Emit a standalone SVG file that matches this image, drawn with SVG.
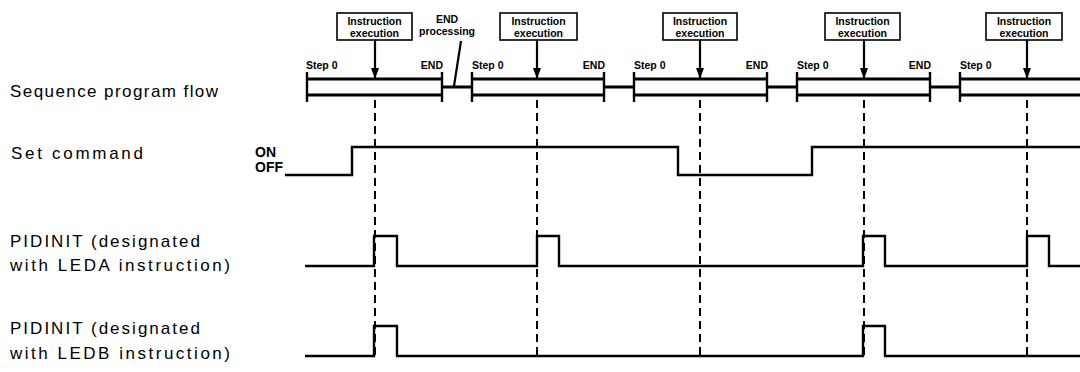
<svg xmlns="http://www.w3.org/2000/svg" width="1080" height="372" viewBox="0 0 1080 372">
<style>
.lbl{font-family:"Liberation Sans",Arial,sans-serif;font-size:17px;fill:#000}
.sm{font-family:"Liberation Sans",Arial,sans-serif;font-size:10.5px;font-weight:bold;fill:#000}
.onoff{font-family:"Liberation Sans",Arial,sans-serif;font-size:14px;font-weight:bold;fill:#000}
.box{fill:#fff;stroke:#000;stroke-width:1.6}
.bar{fill:none;stroke:#000;stroke-width:2.8}
.tick{stroke:#000;stroke-width:2.4}
.wave{fill:none;stroke:#000;stroke-width:2.4}
.dash{stroke:#000;stroke-width:2;stroke-dasharray:8 5}
.arr{stroke:#000;stroke-width:2.2}
</style>
<defs>
<marker id="ah" markerWidth="11" markerHeight="8" refX="11" refY="4" orient="auto" markerUnits="userSpaceOnUse" viewBox="0 0 11 8">
<path d="M0,0 L11,4 L0,8 Z" fill="#000"/>
</marker>
</defs>
<rect width="1080" height="372" fill="#fff"/>

<g id="labels">
<text class="lbl" x="10" y="97" textLength="208" lengthAdjust="spacing">Sequence program flow</text>
<text class="lbl" x="11" y="159" textLength="132" lengthAdjust="spacing">Set command</text>
<text class="lbl" x="10" y="247" textLength="190" lengthAdjust="spacing">PIDINIT (designated</text>
<text class="lbl" x="10" y="271" textLength="220" lengthAdjust="spacing">with LEDA instruction)</text>
<text class="lbl" x="10" y="334" textLength="190" lengthAdjust="spacing">PIDINIT (designated</text>
<text class="lbl" x="10" y="359" textLength="220" lengthAdjust="spacing">with LEDB instruction)</text>
<text class="onoff" x="255" y="157">ON</text>
<text class="onoff" x="255" y="172">OFF</text>
</g>

<g id="program-flow">
<g id="seg1">
<path class="bar" d="M307,79 H442 M307,95 H442"/>
<path class="tick" d="M307,72 V102 M442,72 V102"/>
<text class="sm" x="306" y="69">Step 0</text>
<text class="sm" x="443" y="69" text-anchor="end">END</text>
</g>
<g id="seg2">
<path class="bar" d="M472,79 H604 M472,95 H604"/>
<path class="tick" d="M472,72 V102 M604,72 V102"/>
<text class="sm" x="472" y="69">Step 0</text>
<text class="sm" x="605" y="69" text-anchor="end">END</text>
</g>
<g id="seg3">
<path class="bar" d="M634,79 H767 M634,95 H767"/>
<path class="tick" d="M634,72 V102 M767,72 V102"/>
<text class="sm" x="634" y="69">Step 0</text>
<text class="sm" x="768" y="69" text-anchor="end">END</text>
</g>
<g id="seg4">
<path class="bar" d="M797,79 H930 M797,95 H930"/>
<path class="tick" d="M797,72 V102 M930,72 V102"/>
<text class="sm" x="797" y="69">Step 0</text>
<text class="sm" x="931" y="69" text-anchor="end">END</text>
</g>
<g id="seg5">
<path class="bar" d="M960,79 H1080 M960,95 H1080"/>
<path class="tick" d="M960,72 V102"/>
<text class="sm" x="960" y="69">Step 0</text>
</g>
</g>

<g id="end-processing">
<text class="sm" x="447" y="23" text-anchor="middle">END</text>
<text class="sm" x="447" y="35" text-anchor="middle">processing</text>
</g>

<g id="exec1">
<rect class="box" x="337" y="13" width="75" height="27"/>
<text class="sm" x="374.5" y="25" text-anchor="middle">Instruction</text>
<text class="sm" x="374.5" y="37" text-anchor="middle">execution</text>
</g>
<g id="exec2">
<rect class="box" x="500" y="13" width="77" height="27"/>
<text class="sm" x="538.5" y="25" text-anchor="middle">Instruction</text>
<text class="sm" x="538.5" y="37" text-anchor="middle">execution</text>
</g>
<g id="exec3">
<rect class="box" x="663" y="13" width="74" height="27"/>
<text class="sm" x="700" y="25" text-anchor="middle">Instruction</text>
<text class="sm" x="700" y="37" text-anchor="middle">execution</text>
</g>
<g id="exec4">
<rect class="box" x="825" y="13" width="75" height="27"/>
<text class="sm" x="862.5" y="25" text-anchor="middle">Instruction</text>
<text class="sm" x="862.5" y="37" text-anchor="middle">execution</text>
</g>
<g id="exec5">
<rect class="box" x="986" y="13" width="76" height="27"/>
<text class="sm" x="1024" y="25" text-anchor="middle">Instruction</text>
<text class="sm" x="1024" y="37" text-anchor="middle">execution</text>
</g>

<g id="connectors">
<path class="bar" d="M442,87 H472 M604,87 H634 M767,87 H797 M930,87 H960"/>
<line class="arr" x1="461" y1="41" x2="454" y2="86"/>
<line class="arr" x1="375" y1="40" x2="375" y2="79" marker-end="url(#ah)"/>
<line class="arr" x1="537" y1="40" x2="537" y2="79" marker-end="url(#ah)"/>
<line class="arr" x1="700" y1="40" x2="700" y2="79" marker-end="url(#ah)"/>
<line class="arr" x1="864" y1="40" x2="864" y2="79" marker-end="url(#ah)"/>
<line class="arr" x1="1027" y1="40" x2="1027" y2="79" marker-end="url(#ah)"/>
<line class="dash" x1="375" y1="100" x2="375" y2="358"/>
<line class="dash" x1="537" y1="100" x2="537" y2="358"/>
<line class="dash" x1="700" y1="100" x2="700" y2="358"/>
<line class="dash" x1="864" y1="100" x2="864" y2="358"/>
<line class="dash" x1="1027" y1="100" x2="1027" y2="358"/>
</g>

<g id="set-command">
<path class="wave" d="M285,175 H352 V147 H678 V175 H812 V147 H1080"/>
</g>
<g id="pidinit-leda">
<path class="wave" d="M305,266 H374 V236 H397 V266 H537 V236 H559 V266 H863 V236 H885 V266 H1027 V236 H1049 V266 H1080"/>
</g>
<g id="pidinit-ledb">
<path class="wave" d="M305,356 H374 V326 H397 V356 H863 V326 H885 V356 H1080"/>
</g>
</svg>
